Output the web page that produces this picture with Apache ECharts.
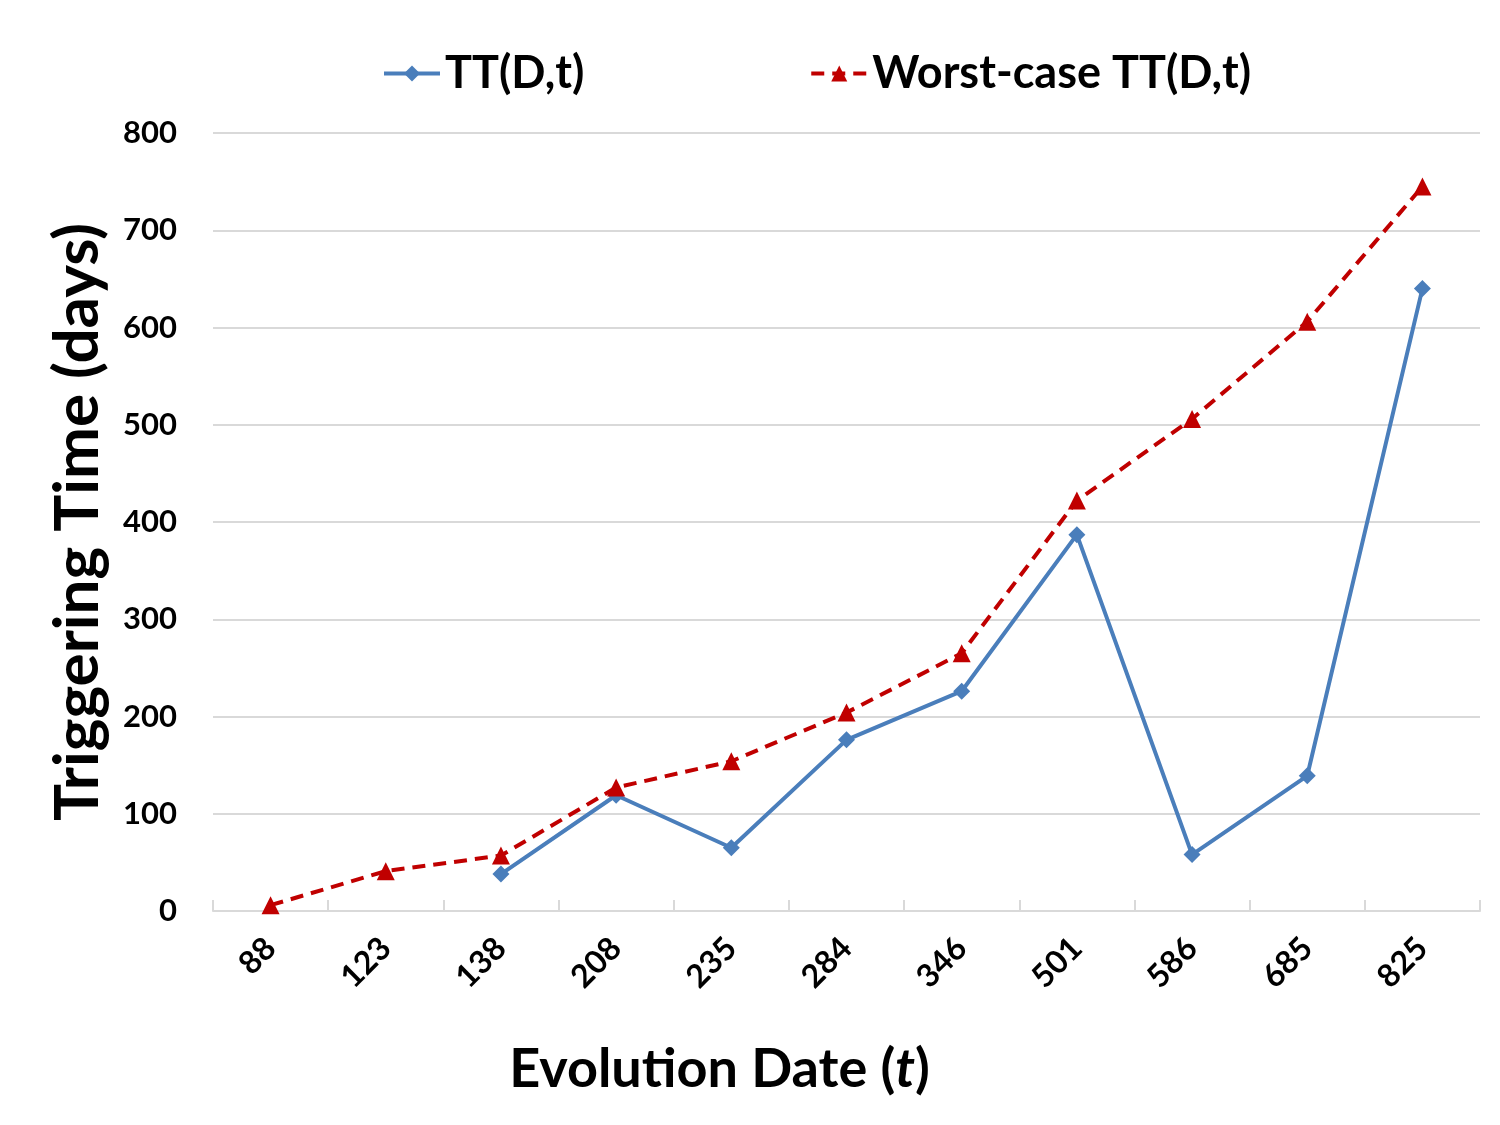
<!DOCTYPE html>
<html>
<head>
<meta charset="utf-8">
<script src="https://cdn.jsdelivr.net/npm/echarts@6/dist/echarts.min.js"></script>
<style>
  html, body { margin: 0; padding: 0; background: #fff; }
  #main { width: 1500px; height: 1125px; }
</style>
</head>
<body>
<div id="main"></div>
<script>
// evolution dates (x categories)
var dates = ['88', '123', '138', '208', '235', '284', '346', '501', '586', '685', '825'];
// TT(D,t) - no value for the first two dates
var ttValues = [null, null, 38, 119, 65, 176, 226, 387, 58, 139, 640];
// worst-case TT(D,t)
var worstValues = [6, 41, 57, 127, 154, 204, 265, 422, 506, 606, 745];

var FONT = 'Lato';
var chart = echarts.init(document.getElementById('main'));

chart.setOption({
    animation: false,
    textStyle: { fontFamily: FONT },
    legend: {
        top: 46,
        left: 377,
        itemGap: 225,
        itemWidth: 56,
        itemHeight: 20,
        lineStyle: { width: 4 },
        textStyle: { fontSize: 45, fontWeight: 'bold', color: '#000', fontFamily: FONT },
        data: ['TT(D,t)', 'Worst-case TT(D,t)']
    },
    grid: { left: 213, right: 20, top: 133, bottom: 214 },
    xAxis: {
        type: 'category',
        data: dates,
        boundaryGap: true,
        name: 'Evolution Date ({i|t})',
        nameLocation: 'middle',
        nameGap: 132,
        nameTextStyle: {
            fontSize: 54, fontWeight: 'bold', color: '#000', fontFamily: FONT,
            padding: [0, 254, 0, 0],
            rich: { i: { fontSize: 54, fontWeight: 'bold', fontStyle: 'italic', color: '#000', fontFamily: FONT } }
        },
        axisLine: { lineStyle: { color: '#d9d9d9', width: 2 } },
        axisTick: { show: true, inside: true, length: 11, lineStyle: { color: '#d9d9d9', width: 2 } },
        axisLabel: { rotate: 45, fontSize: 32, fontWeight: 'bold', color: '#000', margin: 32, fontFamily: FONT }
    },
    yAxis: {
        type: 'value',
        min: 0,
        max: 800,
        interval: 100,
        name: 'Triggering Time (days)',
        nameLocation: 'middle',
        nameGap: 104,
        nameTextStyle: { fontSize: 62, fontWeight: 'bold', color: '#000', fontFamily: FONT },
        axisLine: { show: false },
        axisTick: { show: false },
        axisLabel: { fontSize: 31, fontWeight: 'bold', color: '#000', margin: 36, fontFamily: FONT },
        splitLine: { lineStyle: { color: '#d9d9d9', width: 2 } }
    },
    series: [
        {
            name: 'TT(D,t)',
            type: 'line',
            data: ttValues,
            connectNulls: false,
            symbol: 'diamond',
            symbolSize: 17,
            color: '#4a7ebb',
            lineStyle: { width: 4, color: '#4a7ebb' },
            itemStyle: { color: '#4a7ebb' }
        },
        {
            name: 'Worst-case TT(D,t)',
            type: 'line',
            data: worstValues,
            symbol: 'triangle',
            symbolSize: 18,
            color: '#c00000',
            lineStyle: { width: 4, type: [13, 8], color: '#c00000' },
            itemStyle: { color: '#c00000' }
        }
    ]
});
</script>
</body>
</html>
